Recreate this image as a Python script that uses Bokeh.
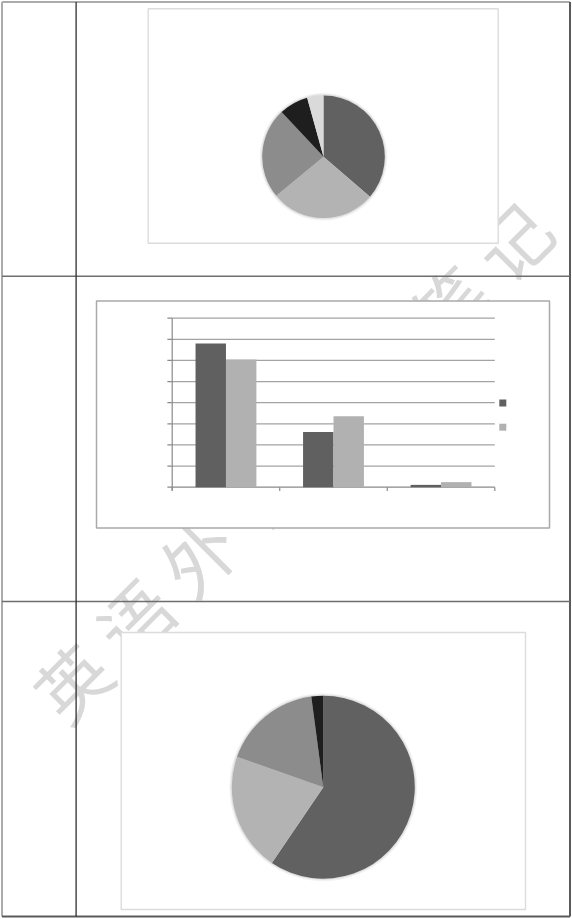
import math
from bokeh.plotting import figure
from bokeh.models import Range1d, ColumnDataSource
from bokeh.core.properties import value
from bokeh.embed import file_html
from bokeh.resources import INLINE

# ---------------- data ----------------
pie1_labels = ["A", "B", "C", "D", "E"]
pie1_values = [36.3, 27.7, 24.0, 7.7, 4.3]
pie1_colors = ["#616161", "#b3b3b3", "#8c8c8c", "#1e1e1e", "#dadada"]

pie2_labels = ["A", "B", "C", "D"]
pie2_values = [59.5, 20.9, 17.5, 2.1]
pie2_colors = ["#616161", "#b3b3b3", "#8c8c8c", "#1e1e1e"]

bar_categories = ["1", "2", "3"]
bar_series1 = [68.0, 26.1, 1.1]
bar_series2 = [60.4, 33.6, 2.4]
bar_yticks = [0, 10, 20, 30, 40, 50, 60, 70, 80]
bar_colors = ["#606060", "#b1b1b1"]

watermark_chars = list("英语外刊精读笔记")

# ---------------- page ----------------
W, H = 572, 919


def Y(t):
    return H - t


p = figure(width=W, height=H, x_range=Range1d(0, W), y_range=Range1d(0, H),
           output_backend="svg", toolbar_location=None, min_border=0,
           x_axis_location=None, y_axis_location=None)
p.grid.visible = False
p.outline_line_color = None
p.background_fill_color = "white"
p.border_fill_color = "white"

# watermark (under everything)
wx = [70 + 63.0 * i for i in range(len(watermark_chars))]
wy = [Y(680 - 63.0 * i) for i in range(len(watermark_chars))]
p.text(x=wx, y=wy, text=watermark_chars, angle=math.pi / 4,
       text_font=value("Noto Sans CJK SC"), text_font_size="72px",
       text_color="#d8d8d8", text_align="center", text_baseline="middle")

# table lines
p.segment(x0=[1.5, 1.5], y0=[Y(1.5), Y(1.5)], x1=[569.5, 1.5], y1=[Y(1.5), Y(916)],
          line_color="#ababab", line_width=2)
p.segment(x0=[1.5, 569.5], y0=[Y(916), Y(1.5)], x1=[569.5, 569.5], y1=[Y(916), Y(916)],
          line_color="#5a5a5a", line_width=2)
p.segment(x0=[1.5, 1.5], y0=[Y(275.7), Y(601)], x1=[569.5, 569.5], y1=[Y(275.7), Y(601)],
          line_color="#6e6e6e", line_width=1.4)
p.segment(x0=[75.6], y0=[Y(1.5)], x1=[75.6], y1=[Y(916)], line_color="#2e2e2e", line_width=1.3)

# chart boxes
p.quad(left=[147.7], right=[497.7], top=[Y(8.3)], bottom=[Y(242.7)],
       fill_color="white", line_color="#dcdcdc", line_width=1.4)
p.quad(left=[96], right=[549], top=[Y(300.5)], bottom=[Y(527.5)],
       fill_color="white", line_color="#a9a9a9", line_width=1.5)
p.quad(left=[120.7], right=[525], top=[Y(632)], bottom=[Y(909)],
       fill_color="white", line_color="#dcdcdc", line_width=1.4)


def draw_pie(values, colors, cx, cy, r):
    total = float(sum(values))
    starts, ends = [], []
    acc = 0.0
    for v in values:
        a0 = acc / total
        acc += v
        a1 = acc / total
        # clockwise from 12 o'clock
        starts.append(math.pi / 2 - a1 * 2 * math.pi)
        ends.append(math.pi / 2 - a0 * 2 * math.pi)
    # soft shadow
    p.circle(x=[cx], y=[cy], radius=r + 2.5, fill_color="#000000", fill_alpha=0.05, line_color=None)
    p.circle(x=[cx], y=[cy], radius=r + 1.2, fill_color="#000000", fill_alpha=0.07, line_color=None)
    src = ColumnDataSource(dict(start=starts, end=ends, color=colors))
    p.wedge(x=cx, y=cy, radius=r, start_angle="start", end_angle="end",
            fill_color="color", line_color=None, source=src)


draw_pie(pie1_values, pie1_colors, 323.0, Y(156.3), 61.3)
draw_pie(pie2_values, pie2_colors, 322.8, Y(786.7), 91.5)

# ---------------- bar chart (sub-coordinates) ----------------
n = len(bar_categories)
ymax = bar_yticks[-1]
bc = p.subplot(x_source=Range1d(0, n), y_source=Range1d(0, ymax),
               x_target=Range1d(171.7, 494.3), y_target=Range1d(Y(486.7), Y(317.7)))

grid_vals = bar_yticks[1:]
bc.segment(x0=[0] * len(grid_vals), x1=[n] * len(grid_vals), y0=grid_vals, y1=grid_vals,
           line_color="#a3a3a3", line_width=1.3)
# axes
bc.segment(x0=[0], x1=[n], y0=[0], y1=[0], line_color="#8a8a8a", line_width=1.2)
bc.segment(x0=[0], x1=[0], y0=[-1.6], y1=[ymax], line_color="#8a8a8a", line_width=1.2)
# y ticks (outside left)
bc.segment(x0=[-0.045] * len(bar_yticks), x1=[0] * len(bar_yticks), y0=bar_yticks, y1=bar_yticks,
           line_color="#8a8a8a", line_width=1.2)
# category ticks
cat_edges = list(range(n + 1))
bc.segment(x0=cat_edges, x1=cat_edges, y0=[0] * len(cat_edges), y1=[-1.8] * len(cat_edges),
           line_color="#8a8a8a", line_width=1.2)

bw = 0.283
x1 = [i + 0.5 - bw / 2 for i in range(n)]
x2 = [i + 0.5 + bw / 2 for i in range(n)]
bc.vbar(x=x1, width=bw, top=bar_series1, bottom=0, fill_color=bar_colors[0], line_color=None)
bc.vbar(x=x2, width=bw, top=bar_series2, bottom=0, fill_color=bar_colors[1], line_color=None)

# legend keys (text-less, as in the source)
p.scatter(x=[502.3, 502.3], y=[Y(402.5), Y(426.7)], marker="square", size=7,
          fill_color=bar_colors, line_color=None)

open("out.html", "w").write(file_html(p, INLINE))
